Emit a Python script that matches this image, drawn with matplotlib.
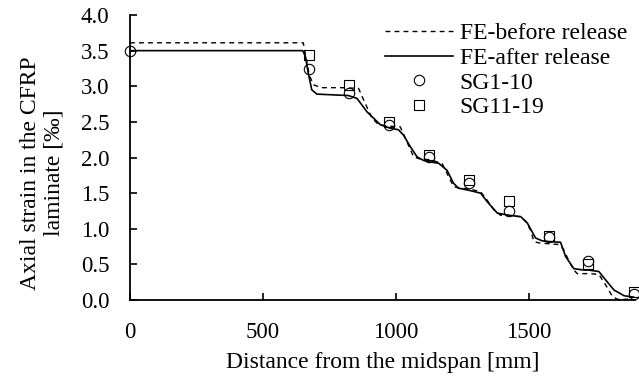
import matplotlib
matplotlib.use('Agg')
import matplotlib.pyplot as plt

# FE curves (distance [mm], strain [permil])
fe_before_x = [0, 652, 660, 675, 691, 720, 800, 860, 885, 911, 936, 975, 1017, 1042,
               1067, 1090, 1125, 1174, 1199, 1218, 1240, 1275, 1319, 1344, 1370, 1394,
               1425, 1470, 1490, 1507, 1520, 1540, 1575, 1610, 1630, 1650, 1670, 1683,
               1725, 1764, 1790, 1815, 1834, 1870, 1895]
fe_before_y = [3.61, 3.61, 3.45, 3.15, 3.02, 2.98, 2.98, 2.97, 2.76, 2.55, 2.46, 2.44,
               2.43, 2.22, 2.01, 1.98, 1.97, 1.92, 1.73, 1.59, 1.57, 1.56, 1.52, 1.40,
               1.26, 1.19, 1.18, 1.17, 1.10, 0.98, 0.82, 0.80, 0.79, 0.78, 0.72, 0.56,
               0.42, 0.37, 0.37, 0.36, 0.21, 0.05, 0.01, 0.01, 0.04]

fe_after_x = [0, 650, 660, 670, 684, 703, 760, 821, 854, 892, 942, 980, 1010, 1030,
              1055, 1080, 1104, 1125, 1161, 1193, 1217, 1236, 1275, 1319, 1344, 1382,
              1424, 1470, 1495, 1526, 1551, 1575, 1620, 1639, 1670, 1708, 1725, 1764,
              1790, 1821, 1859, 1895]
fe_after_y = [3.50, 3.50, 3.42, 3.20, 2.95, 2.89, 2.88, 2.87, 2.83, 2.64, 2.46, 2.41,
              2.39, 2.31, 2.15, 2.01, 1.96, 1.94, 1.92, 1.82, 1.64, 1.57, 1.54, 1.50,
              1.38, 1.22, 1.19, 1.17, 1.08, 0.87, 0.83, 0.82, 0.81, 0.61, 0.44, 0.42,
              0.42, 0.40, 0.28, 0.14, 0.06, 0.04]

# strain gauges
sg1_x = [0, 675, 825, 975, 1125, 1275, 1425, 1575, 1725, 1895]
sg1_y = [3.50, 3.24, 2.91, 2.46, 2.01, 1.64, 1.25, 0.89, 0.55, 0.08]
sg2_x = [675, 825, 975, 1125, 1275, 1425, 1575, 1725, 1895]
sg2_y = [3.44, 3.02, 2.50, 2.03, 1.68, 1.39, 0.90, 0.51, 0.11]

plt.rcParams['font.family'] = ['Liberation Serif', 'DejaVu Serif']
plt.rcParams['font.size'] = 17

fig = plt.figure(figsize=(6.39, 3.81), dpi=100)
ax = fig.add_axes([0.2034, 0.2126, 0.7903, 0.748])

ax.plot(fe_before_x, fe_before_y, color='black', lw=1.0, linestyle=(0, (3.5, 3)),
        label='FE-before release')
ax.plot(fe_after_x, fe_after_y, color='black', lw=1.2, label='FE-after release')
ax.plot(sg1_x, sg1_y, linestyle='none', marker='o', ms=7.5, mfc='none', mec='black',
        mew=0.8, label='SG1-10', clip_on=False)
ax.plot(sg2_x, sg2_y, linestyle='none', marker='s', ms=7.5, mfc='none', mec='black',
        mew=0.8, label='SG11-19', clip_on=False)

ax.set_xlim(0, 1900)
ax.set_ylim(0, 4.0)
ax.set_xticks([0, 500, 1000, 1500])
ax.set_yticks([0, 0.5, 1.0, 1.5, 2.0, 2.5, 3.0, 3.5, 4.0])
ax.set_yticklabels(['%.1f' % v for v in ax.get_yticks()])

ax.spines['top'].set_visible(False)
ax.spines['right'].set_visible(False)
ax.spines['left'].set_linewidth(1.3)
ax.spines['bottom'].set_linewidth(1.3)
ax.tick_params(axis='both', direction='in', length=5, width=1.2, labelsize=16.5)
ax.tick_params(axis='x', pad=16)
ax.tick_params(axis='y', pad=15)

ax.set_xlabel('Distance from the midspan [mm]', labelpad=6)
ax.set_ylabel('Axial strain in the CFRP\nlaminate [‰]', linespacing=1.2)
ax.yaxis.set_label_coords(-0.129, 0.446)

fig.legend(loc='upper right', bbox_to_anchor=(627 / 639, 0.94), frameon=False,
           fontsize=17, handlelength=2.85, handletextpad=0.3, labelspacing=0.13,
           borderpad=0.0, borderaxespad=0.0)

fig.savefig('out.png', dpi=100)
